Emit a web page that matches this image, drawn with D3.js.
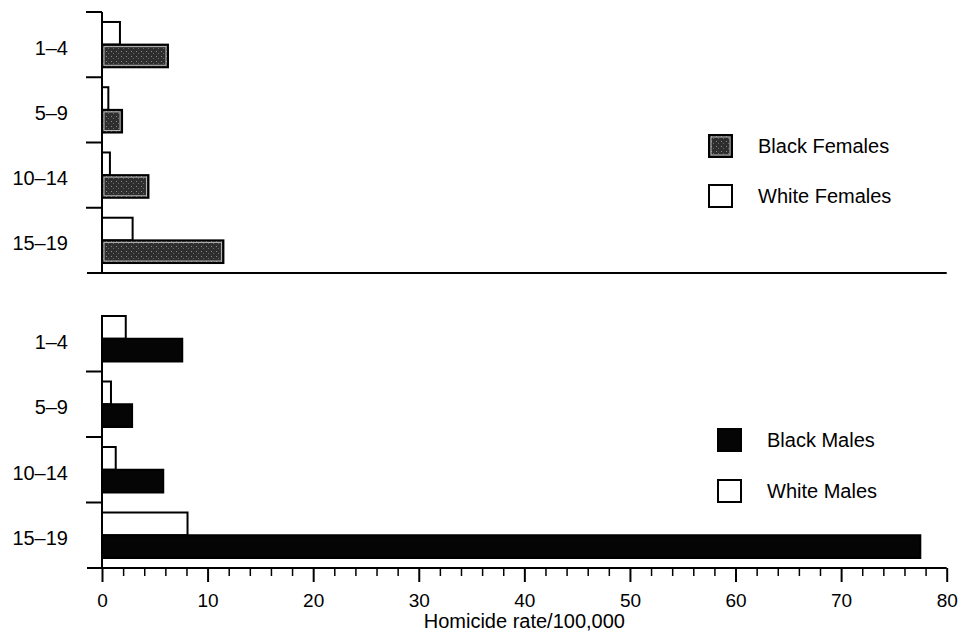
<!DOCTYPE html>
<html>
<head>
<meta charset="utf-8">
<script src="https://cdn.jsdelivr.net/npm/d3@7"></script>
<style>
    body { margin: 0; background: #fff; }
    svg { display: block; font-family: "Liberation Sans", Arial, Helvetica, sans-serif; }
</style>
</head>
<body>
<svg id="vis" width="959" height="638"></svg>
<script>
// homicide rate per 100,000, by age group
const ages = ["1\u20134", "5\u20139", "10\u201314", "15\u201319"];
const blackFemales = [6.25, 1.9, 4.4, 11.5];
const whiteFemales = [1.7, 0.6, 0.75, 2.9];
const blackMales = [7.6, 2.85, 5.8, 77.5];
const whiteMales = [2.25, 0.85, 1.3, 8.1];
const majorTicks = [0, 10, 20, 30, 40, 50, 60, 70, 80];
const xTitle = "Homicide rate/100,000";

const svg = d3.select('#vis');

// stipple for the grey female bars
const defs = svg.append('defs');
const pat = defs.append('pattern')
    .attr('id', 'stipple')
    .attr('width', 5)
    .attr('height', 5)
    .attr('patternUnits', 'userSpaceOnUse');
pat.append('rect').attr('width', 5).attr('height', 5).attr('fill', '#2e2e2e');
pat.append('rect').attr('x', 1).attr('y', 1).attr('width', 1).attr('height', 1).attr('fill', '#8a8a8a');
pat.append('rect').attr('x', 3).attr('y', 3).attr('width', 1).attr('height', 1).attr('fill', '#6a6a6a');

const x = d3.scaleLinear()
    .domain([0, 80])
    .range([102, 946.7]);

const subKeys = ["white", "black"];

function panel(top, bottom, whiteVals, blackVals, blackStyle, firstTick) {
    const g = svg.append('g');
    const y = d3.scaleBand()
        .domain(ages)
        .range([top, bottom]);
    const sub = d3.scaleBand()
        .domain(subKeys)
        .range([0, y.bandwidth()])
        .paddingOuter(0.44);

    const rows = ages.map(function (a, i) {
        return {age: a, white: whiteVals[i], black: blackVals[i]};
    });

    // white bars
    g.selectAll('.wbar')
        .data(rows)
        .enter().append('rect')
        .attr('class', 'wbar')
        .attr('x', x(0))
        .attr('y', function (d) { return y(d.age) + sub("white"); })
        .attr('width', function (d) { return x(d.white) - x(0); })
        .attr('height', sub.bandwidth())
        .attr('fill', '#fff')
        .attr('stroke', '#000')
        .attr('stroke-width', 2);

    // black bars
    const bb = g.selectAll('.bbar')
        .data(rows)
        .enter().append('g')
        .attr('class', 'bbar');
    bb.append('rect')
        .attr('x', x(0))
        .attr('y', function (d) { return y(d.age) + sub("black"); })
        .attr('width', function (d) { return x(d.black) - x(0); })
        .attr('height', sub.bandwidth())
        .attr('fill', blackStyle === 'grey' ? 'url(#stipple)' : '#050505')
        .attr('stroke', '#000')
        .attr('stroke-width', 2);
    if (blackStyle === 'grey') {
        bb.append('rect')
            .attr('x', x(0) + 2)
            .attr('y', function (d) { return y(d.age) + sub("black") + 2; })
            .attr('width', function (d) { return x(d.black) - x(0) - 4; })
            .attr('height', sub.bandwidth() - 4)
            .attr('fill', 'none')
            .attr('stroke', '#bdbdbd')
            .attr('stroke-width', 1);
    }

    // vertical axis line
    g.append('line')
        .attr('x1', x(0)).attr('x2', x(0))
        .attr('y1', firstTick ? top : top + sub("white"))
        .attr('y2', bottom)
        .attr('stroke', '#000')
        .attr('stroke-width', 2);

    // separator ticks between age groups
    g.selectAll('.sep')
        .data(firstTick ? ages : ages.slice(1))
        .enter().append('line')
        .attr('class', 'sep')
        .attr('x1', x(0) - 16).attr('x2', x(0))
        .attr('y1', function (d) { return y(d); })
        .attr('y2', function (d) { return y(d); })
        .attr('stroke', '#000')
        .attr('stroke-width', 2);

    // baseline
    g.append('line')
        .attr('x1', 87).attr('x2', x(80))
        .attr('y1', bottom).attr('y2', bottom)
        .attr('stroke', '#000')
        .attr('stroke-width', 2);

    // age labels
    g.selectAll('.lab')
        .data(ages)
        .enter().append('text')
        .attr('class', 'lab')
        .attr('x', 68)
        .attr('y', function (d) { return y(d) + y.bandwidth() / 2 + 3; })
        .attr('dy', '0.35em')
        .attr('text-anchor', 'end')
        .attr('font-size', '20px')
        .attr('fill', '#000')
        .text(function (d) { return d; });

    return g;
}

panel(12, 273, whiteFemales, blackFemales, 'grey', true);
panel(306, 568, whiteMales, blackMales, 'black', false);

// x axis
const minorTicks = d3.range(0, 81, 2).filter(function (v) { return v % 10 !== 0; });

svg.append('g')
    .attr('transform', 'translate(0,568)')
    .call(d3.axisBottom(x).tickValues(minorTicks).tickSize(8).tickSizeOuter(0).tickFormat(''))
    .call(function (a) {
        a.select('.domain').remove();
        a.selectAll('line').attr('stroke-width', 1.5);
    });

svg.append('g')
    .attr('transform', 'translate(0,568)')
    .call(d3.axisBottom(x).tickValues(majorTicks).tickSize(14).tickSizeOuter(0).tickPadding(12))
    .call(function (a) {
        a.select('.domain').remove();
        a.selectAll('line').attr('stroke-width', 2);
        a.selectAll('text')
            .attr('font-size', '19px')
            .attr('font-family', '"Liberation Sans", Arial, sans-serif')
            .attr('fill', '#000');
    });

svg.append('text')
    .attr('x', (x(0) + x(80)) / 2)
    .attr('y', 628)
    .attr('text-anchor', 'middle')
    .attr('font-size', '20px')
    .attr('fill', '#000')
    .text(xTitle);

// legends
function legend(items, lx, tx, ys) {
    const lg = svg.append('g');
    items.forEach(function (it, i) {
        lg.append('rect')
            .attr('x', lx)
            .attr('y', ys[i] - 11)
            .attr('width', 23)
            .attr('height', 22)
            .attr('fill', it.fill)
            .attr('stroke', '#000')
            .attr('stroke-width', 2);
        if (it.inner) {
            lg.append('rect')
                .attr('x', lx + 2).attr('y', ys[i] - 9)
                .attr('width', 19).attr('height', 18)
                .attr('fill', 'none')
                .attr('stroke', '#bdbdbd')
                .attr('stroke-width', 1);
        }
        lg.append('text')
            .attr('x', tx)
            .attr('y', ys[i])
            .attr('dy', '0.35em')
            .attr('font-size', '20px')
            .attr('fill', '#000')
            .text(it.label);
    });
}

legend([
    {label: "Black Females", fill: 'url(#stipple)', inner: true},
    {label: "White Females", fill: '#fff'}
], 709, 758, [146, 196]);

legend([
    {label: "Black Males", fill: '#050505'},
    {label: "White Males", fill: '#fff'}
], 718, 767, [440, 491]);
</script>
</body>
</html>
